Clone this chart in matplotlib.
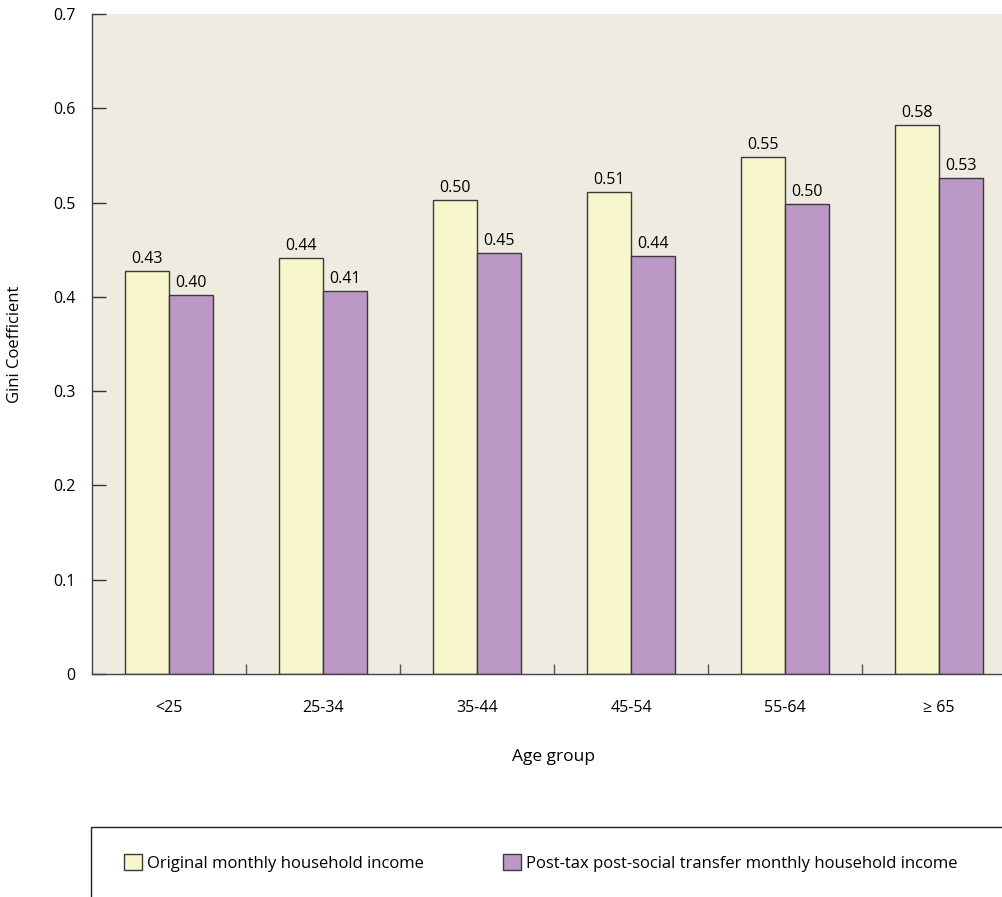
import matplotlib.pyplot as plt
from matplotlib.patches import Patch, Rectangle
import numpy as np

plt.rcParams['font.family'] = ['Open Sans', 'DejaVu Sans']

# data
age_groups = ["<25", "25-34", "35-44", "45-54", "55-64", "\u2265 65"]
original = [0.427, 0.441, 0.503, 0.511, 0.548, 0.582]
post_tax = [0.402, 0.406, 0.446, 0.443, 0.498, 0.526]
series_names = ["Original monthly household income",
                "Post-tax post-social transfer monthly household income"]

yellow = "#F8F6CC"
purple = "#BC98C6"
edge = "#3a3a3a"

W, H = 1003, 897
fig = plt.figure(figsize=(W / 100, H / 100), dpi=100)
ax = fig.add_axes([92 / W, (H - 674) / H, (1016 - 92) / W, (674 - 14) / H])
ax.set_facecolor("#EFEBE1")

x = np.arange(len(age_groups))
bw = 0.286
b1 = ax.bar(x - bw / 2, original, bw, color=yellow, edgecolor=edge, linewidth=1)
b2 = ax.bar(x + bw / 2, post_tax, bw, color=purple, edgecolor=edge, linewidth=1)

for bars, vals in ((b1, original), (b2, post_tax)):
    for r, v in zip(bars, vals):
        ax.annotate("%.2f" % v, (r.get_x() + r.get_width() / 2, v),
                    xytext=(0, 3), textcoords="offset points",
                    ha="center", va="bottom", fontsize=11.5)

ax.set_xlim(-0.5, len(age_groups) - 0.5)
ax.set_ylim(0, 0.7)
ax.set_yticks([0, 0.1, 0.2, 0.3, 0.4, 0.5, 0.6, 0.7])
ax.set_yticklabels(["0", "0.1", "0.2", "0.3", "0.4", "0.5", "0.6", "0.7"])
ax.set_xticks(x)
ax.set_xticklabels(age_groups)
ax.set_xticks(np.arange(0.5, len(age_groups) - 0.5), minor=True)
ax.tick_params(axis="x", which="major", length=0, pad=19, labelsize=11.5)
ax.tick_params(axis="x", which="minor", direction="in", length=7, width=1, color="#555555")
ax.tick_params(axis="y", direction="in", length=10, width=1, pad=12, labelsize=11.5, color="#333333")

for s in ("top", "right"):
    ax.spines[s].set_visible(False)
for s in ("left", "bottom"):
    ax.spines[s].set_color("#444444")
    ax.spines[s].set_linewidth(1)

fig.text(15 / W, 1 - 344 / H, "Gini Coefficient", rotation=90, ha="center", va="center", fontsize=12)
fig.text(553 / W, 1 - 757 / H, "Age group", ha="center", va="center", fontsize=12.5)

# legend box
fig.patches.append(Rectangle((91 / W, -0.1), 1.0, 1 - 827 / H + 0.1, transform=fig.transFigure,
                             fill=False, edgecolor="#222222", linewidth=1))
handles = [Patch(facecolor=yellow, edgecolor=edge, label=series_names[0]),
           Patch(facecolor=purple, edgecolor=edge, label=series_names[1])]
fig.legend(handles=handles, loc="center left", bbox_to_anchor=(109 / W, 1 - 863 / H),
           ncol=2, frameon=False, fontsize=12, handlelength=1.1, handleheight=1.1,
           handletextpad=0.3, columnspacing=4.7)

fig.savefig("out.png", dpi=100)
